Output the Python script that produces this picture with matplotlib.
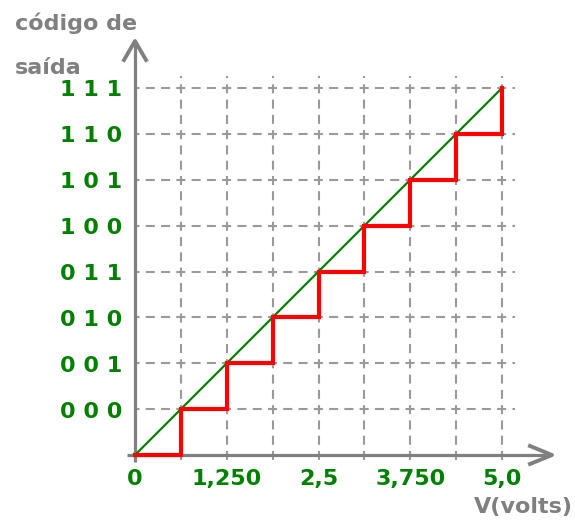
import matplotlib
matplotlib.use("Agg")
import matplotlib.pyplot as plt

# data
volt_edges = [0, 0.625, 1.25, 1.875, 2.5, 3.125, 3.75, 4.375, 5.0]
code_levels = [0, 1, 2, 3, 4, 5, 6, 7, 8]
code_labels = ["0 0 0", "0 0 1", "0 1 0", "0 1 1", "1 0 0", "1 0 1", "1 1 0", "1 1 1"]
volt_ticks = [0, 1.25, 2.5, 3.75, 5.0]
volt_tick_labels = ["0", "1,250", "2,5", "3,750", "5,0"]
ideal_x = [0, 5.0]
ideal_y = [0, 8]

plt.rcParams['lines.scale_dashes'] = False

GREEN = "#008000"
GRAY = "#808080"

fig = plt.figure(figsize=(5.75, 5.21), dpi=100)
ax = fig.add_axes([135 / 575, 66 / 521, 367 / 575, 367 / 521])
ax.set_xlim(0, 5.0)
ax.set_ylim(0, 8)
ax.axis("off")

# size of one pixel in data units
px = 5.0 / 367
py = 8 / 367

# dashed grid
grid_kw = dict(color="#9a9a9a", lw=1.5, clip_on=False, zorder=1)
for x in volt_edges[1:]:
    ax.plot([x, x], [-4.5 * py, 8 + 12 * py], linestyle=(0, (6.5, 4.5)), **grid_kw)
for k in code_levels[1:]:
    ax.plot([0, 5.0 + 13 * px], [k, k], linestyle=(3.25, (6.5, 4.5)), **grid_kw)

# axes with open arrow heads
axis_kw = dict(color=GRAY, lw=2.3, clip_on=False, zorder=2, solid_capstyle="butt")
ax.plot([-8 * px, 5.0 + 48 * px], [0, 0], **axis_kw)
ax.plot([5.0 + 28 * px, 5.0 + 50 * px, 5.0 + 28 * px], [9 * py, 0, -9 * py],
        color=GRAY, lw=2.8, clip_on=False, zorder=2)
ax.plot([0, 0], [-7 * py, 8 + 45 * py], **axis_kw)
ax.plot([-11 * px, 0, 11 * px], [8 + 28 * py, 8 + 47 * py, 8 + 28 * py],
        color=GRAY, lw=2.8, clip_on=False, zorder=2)

# ideal line and quantized staircase
ax.plot(ideal_x, ideal_y, color=GREEN, lw=1.6, clip_on=False, zorder=3)
ax.step(volt_edges, code_levels, where="post", color="#ff0000", lw=3,
        clip_on=False, zorder=4, solid_joinstyle="miter")

# tick labels
lab_kw = dict(color=GREEN, fontsize=16, fontweight="bold", clip_on=False)
for v, lab in zip(volt_ticks, volt_tick_labels):
    ax.text(v, -30 * py, lab, ha="center", va="baseline", **lab_kw)
for k, lab in zip(code_levels[1:], code_labels):
    ax.text(-13 * px, k - 8.5 * py, lab, ha="right", va="baseline", **lab_kw)

# axis titles
title_kw = dict(color=GRAY, fontsize=16, fontweight="bold")
fig.text(15 / 575, 1 - 30 / 521, "código de", ha="left", va="baseline", **title_kw)
fig.text(15 / 575, 1 - 74 / 521, "saída", ha="left", va="baseline", **title_kw)
fig.text(573 / 575, 1 - 513 / 521, "V(volts)", ha="right", va="baseline", **title_kw)

fig.savefig("out.png", dpi=100)
